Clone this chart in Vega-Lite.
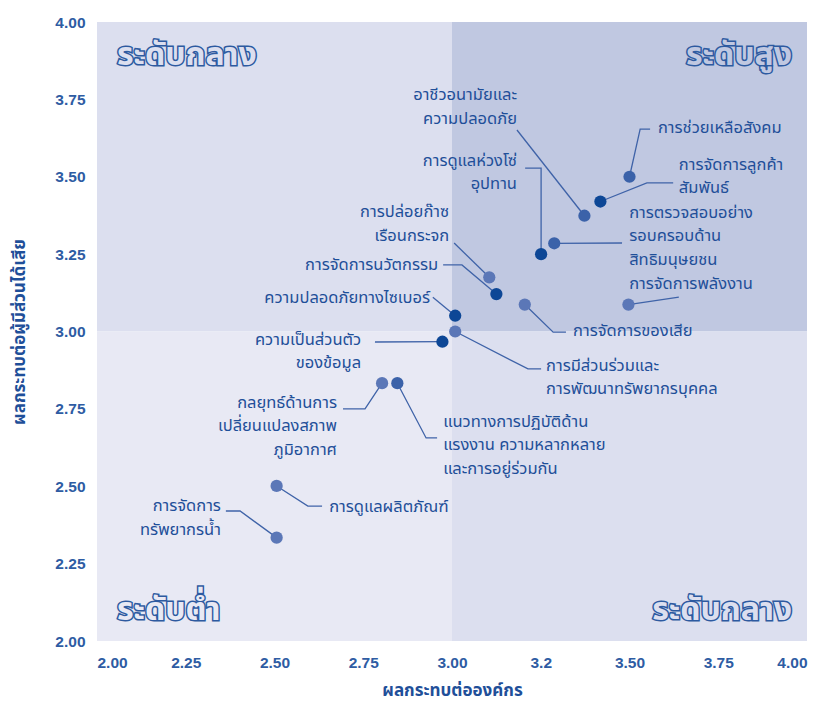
{
  "$schema": "https://vega.github.io/schema/vega-lite/v6.json",
  "autosize": "none",
  "width": 710,
  "height": 619,
  "padding": {"left": 97, "top": 22, "right": 20, "bottom": 65},
  "background": "#ffffff",
  "config": {
    "view": {"stroke": null},
    "font": "Noto Sans Thai, Noto Sans",
    "axis": {"domain": false, "ticks": false, "grid": false, "labelColor": "#2e5ca3", "labelFont": "Liberation Sans", "labelFontSize": 15.5, "labelFontWeight": "bold", "titleColor": "#1f4f99", "titleFontSize": 17, "titleFontWeight": "bold"}
  },
  "datasets": {
    "quads": [
      {"q": "tl", "x1": 2, "x2": 3, "y1": 3, "y2": 4},
      {"q": "tr", "x1": 3, "x2": 4, "y1": 3, "y2": 4},
      {"q": "bl", "x1": 2, "x2": 3, "y1": 2, "y2": 3},
      {"q": "br", "x1": 3, "x2": 4, "y1": 2, "y2": 3}
    ],
    "qlabels": [
      {"t": "ระดับกลาง", "x": 2.056, "y": 3.893, "a": "left", "bg": "tl"},
      {"t": "ระดับสูง", "x": 3.958, "y": 3.893, "a": "right", "bg": "tr"},
      {"t": "ระดับต่ำ", "x": 2.056, "y": 2.10, "a": "left", "bg": "bl"},
      {"t": "ระดับกลาง", "x": 3.958, "y": 2.10, "a": "right", "bg": "br"}
    ],
    "points": [
      {"name": "การช่วยเหลือสังคม", "x": 3.50, "y": 3.50, "tone": "mid"},
      {"name": "การจัดการลูกค้าสัมพันธ์", "x": 3.418, "y": 3.42, "tone": "dark"},
      {"name": "อาชีวอนามัยและความปลอดภัย", "x": 3.373, "y": 3.374, "tone": "mid"},
      {"name": "การดูแลห่วงโซ่อุปทาน", "x": 3.251, "y": 3.25, "tone": "dark"},
      {"name": "การตรวจสอบอย่างรอบครอบด้านสิทธิมนุษยชน", "x": 3.288, "y": 3.285, "tone": "mid"},
      {"name": "การจัดการพลังงาน", "x": 3.497, "y": 3.087, "tone": "light"},
      {"name": "การจัดการของเสีย", "x": 3.205, "y": 3.087, "tone": "light"},
      {"name": "การปล่อยก๊าซเรือนกระจก", "x": 3.105, "y": 3.175, "tone": "light"},
      {"name": "การจัดการนวัตกรรม", "x": 3.125, "y": 3.121, "tone": "dark"},
      {"name": "ความปลอดภัยทางไซเบอร์", "x": 3.009, "y": 3.051, "tone": "dark"},
      {"name": "การมีส่วนร่วมและการพัฒนาทรัพยากรบุคคล", "x": 3.009, "y": 3.0, "tone": "light"},
      {"name": "ความเป็นส่วนตัวของข้อมูล", "x": 2.973, "y": 2.967, "tone": "dark"},
      {"name": "กลยุทธ์ด้านการเปลี่ยนแปลงสภาพภูมิอากาศ", "x": 2.803, "y": 2.833, "tone": "light"},
      {"name": "แนวทางการปฏิบัติด้านแรงงาน", "x": 2.846, "y": 2.833, "tone": "mid"},
      {"name": "การดูแลผลิตภัณฑ์", "x": 2.506, "y": 2.501, "tone": "light"},
      {"name": "การจัดการทรัพยากรน้ำ", "x": 2.506, "y": 2.334, "tone": "light"}
    ],
    "labels": [
      {"t": "การช่วยเหลือสังคม", "x": 3.580, "y": 3.658, "a": "left"},
      {"t": "การจัดการลูกค้า\nสัมพันธ์", "x": 3.639, "y": 3.538, "a": "left"},
      {"t": "อาชีวอนามัยและ\nความปลอดภัย", "x": 3.183, "y": 3.764, "a": "right"},
      {"t": "การดูแลห่วงโซ่\nอุปทาน", "x": 3.183, "y": 3.551, "a": "right"},
      {"t": "การตรวจสอบอย่าง\nรอบครอบด้าน\nสิทธิมนุษยชน", "x": 3.499, "y": 3.383, "a": "left"},
      {"t": "การจัดการพลังงาน", "x": 3.499, "y": 3.153, "a": "left"},
      {"t": "การจัดการของเสีย", "x": 3.341, "y": 3.002, "a": "left"},
      {"t": "การปล่อยก๊าซ\nเรือนกระจก", "x": 2.992, "y": 3.386, "a": "right"},
      {"t": "การจัดการนวัตกรรม", "x": 2.961, "y": 3.215, "a": "right"},
      {"t": "ความปลอดภัยทางไซเบอร์", "x": 2.938, "y": 3.108, "a": "right"},
      {"t": "การมีส่วนร่วมและ\nการพัฒนาทรัพยากรบุคคล", "x": 3.265, "y": 2.889, "a": "left"},
      {"t": "ความเป็นส่วนตัว\nของข้อมูล", "x": 2.744, "y": 2.973, "a": "right"},
      {"t": "กลยุทธ์ด้านการ\nเปลี่ยนแปลงสภาพ\nภูมิอากาศ", "x": 2.676, "y": 2.769, "a": "right"},
      {"t": "แนวทางการปฏิบัติด้าน\nแรงงาน ความหลากหลาย\nและการอยู่ร่วมกัน", "x": 2.975, "y": 2.708, "a": "left"},
      {"t": "การดูแลผลิตภัณฑ์", "x": 2.654, "y": 2.433, "a": "left"},
      {"t": "การจัดการ\nทรัพยากรน้ำ", "x": 2.349, "y": 2.436, "a": "right"}
    ],
    "leaders": [
      {"id": 1, "o": 1, "x": 3.558, "y": 3.654}, {"id": 1, "o": 2, "x": 3.530, "y": 3.654}, {"id": 1, "o": 3, "x": 3.50, "y": 3.50},
      {"id": 2, "o": 1, "x": 3.418, "y": 3.42}, {"id": 2, "o": 2, "x": 3.549, "y": 3.480}, {"id": 2, "o": 3, "x": 3.623, "y": 3.480},
      {"id": 3, "o": 1, "x": 3.183, "y": 3.651}, {"id": 3, "o": 2, "x": 3.373, "y": 3.374},
      {"id": 4, "o": 1, "x": 3.206, "y": 3.528}, {"id": 4, "o": 2, "x": 3.251, "y": 3.528}, {"id": 4, "o": 3, "x": 3.251, "y": 3.25},
      {"id": 5, "o": 1, "x": 3.288, "y": 3.285}, {"id": 5, "o": 2, "x": 3.479, "y": 3.286},
      {"id": 6, "o": 1, "x": 3.497, "y": 3.087}, {"id": 6, "o": 2, "x": 3.639, "y": 3.111},
      {"id": 7, "o": 1, "x": 3.205, "y": 3.087}, {"id": 7, "o": 2, "x": 3.285, "y": 2.998}, {"id": 7, "o": 3, "x": 3.321, "y": 2.998},
      {"id": 8, "o": 1, "x": 3.006, "y": 3.286}, {"id": 8, "o": 2, "x": 3.105, "y": 3.175},
      {"id": 9, "o": 1, "x": 2.975, "y": 3.215}, {"id": 9, "o": 2, "x": 3.028, "y": 3.215}, {"id": 9, "o": 3, "x": 3.125, "y": 3.121},
      {"id": 10, "o": 1, "x": 2.946, "y": 3.111}, {"id": 10, "o": 2, "x": 3.009, "y": 3.051},
      {"id": 11, "o": 1, "x": 3.009, "y": 3.0}, {"id": 11, "o": 2, "x": 3.214, "y": 2.879}, {"id": 11, "o": 3, "x": 3.251, "y": 2.879},
      {"id": 12, "o": 1, "x": 2.783, "y": 2.966}, {"id": 12, "o": 2, "x": 2.973, "y": 2.967},
      {"id": 13, "o": 1, "x": 2.693, "y": 2.750}, {"id": 13, "o": 2, "x": 2.755, "y": 2.750}, {"id": 13, "o": 3, "x": 2.803, "y": 2.833},
      {"id": 14, "o": 1, "x": 2.846, "y": 2.833}, {"id": 14, "o": 2, "x": 2.927, "y": 2.656}, {"id": 14, "o": 3, "x": 2.958, "y": 2.656},
      {"id": 15, "o": 1, "x": 2.506, "y": 2.501}, {"id": 15, "o": 2, "x": 2.594, "y": 2.436}, {"id": 15, "o": 3, "x": 2.634, "y": 2.436},
      {"id": 16, "o": 1, "x": 2.363, "y": 2.420}, {"id": 16, "o": 2, "x": 2.403, "y": 2.420}, {"id": 16, "o": 3, "x": 2.506, "y": 2.334}
    ]
  },
  "layer": [
    {
      "data": {"name": "quads"},
      "mark": {"type": "rect"},
      "encoding": {
        "x": {"field": "x1", "type": "quantitative", "scale": {"domain": [2, 4], "nice": false, "zero": false},
              "axis": {"values": [2, 2.25, 2.5, 2.75, 3, 3.25, 3.5, 3.75, 4], "labelExpr": "datum.value == 3.25 ? '3.2' : format(datum.value, '.2f')", "labelPadding": 14, "title": "ผลกระทบต่อองค์กร", "titlePadding": 12}},
        "x2": {"field": "x2"},
        "y": {"field": "y1", "type": "quantitative", "scale": {"domain": [2, 4], "nice": false, "zero": false},
              "axis": {"values": [2, 2.25, 2.5, 2.75, 3, 3.25, 3.5, 3.75, 4], "format": ".2f", "labelPadding": 12, "title": "ผลกระทบต่อผู้มีส่วนได้เสีย", "titlePadding": 26}},
        "y2": {"field": "y2"},
        "color": {"field": "q", "type": "nominal", "scale": {"domain": ["tl", "tr", "bl", "br"], "range": ["#dcdfef", "#c0c8e1", "#e8e9f4", "#dcdfef"]}, "legend": null}
      }
    },
    {
      "data": {"name": "qlabels"},
      "transform": [{"filter": "datum.a == 'left'"}],
      "mark": {"type": "text", "align": "left", "baseline": "middle", "fontSize": 32, "fontWeight": "bold", "color": "#2d5aa0", "stroke": "#2d5aa0", "strokeWidth": 3},
      "encoding": {
        "x": {"field": "x", "type": "quantitative"},
        "y": {"field": "y", "type": "quantitative"},
        "text": {"field": "t"}
      }
    },
    {
      "data": {"name": "qlabels"},
      "transform": [{"filter": "datum.a == 'right'"}],
      "mark": {"type": "text", "align": "right", "baseline": "middle", "fontSize": 32, "fontWeight": "bold", "color": "#2d5aa0", "stroke": "#2d5aa0", "strokeWidth": 3},
      "encoding": {
        "x": {"field": "x", "type": "quantitative"},
        "y": {"field": "y", "type": "quantitative"},
        "text": {"field": "t"}
      }
    },
    {
      "data": {"name": "qlabels"},
      "transform": [{"filter": "datum.a == 'left'"}],
      "mark": {"type": "text", "align": "left", "baseline": "middle", "fontSize": 32, "fontWeight": "bold"},
      "encoding": {
        "x": {"field": "x", "type": "quantitative"},
        "y": {"field": "y", "type": "quantitative"},
        "text": {"field": "t"},
        "color": {"field": "bg", "type": "nominal", "scale": {"domain": ["tl", "tr", "bl", "br"], "range": ["#dcdfef", "#c0c8e1", "#e8e9f4", "#dcdfef"]}, "legend": null}
      }
    },
    {
      "data": {"name": "qlabels"},
      "transform": [{"filter": "datum.a == 'right'"}],
      "mark": {"type": "text", "align": "right", "baseline": "middle", "fontSize": 32, "fontWeight": "bold"},
      "encoding": {
        "x": {"field": "x", "type": "quantitative"},
        "y": {"field": "y", "type": "quantitative"},
        "text": {"field": "t"},
        "color": {"field": "bg", "type": "nominal", "scale": {"domain": ["tl", "tr", "bl", "br"], "range": ["#dcdfef", "#c0c8e1", "#e8e9f4", "#dcdfef"]}, "legend": null}
      }
    },
    {
      "data": {"name": "leaders"},
      "mark": {"type": "line", "color": "#3f63a8", "strokeWidth": 1.3},
      "encoding": {
        "x": {"field": "x", "type": "quantitative"},
        "y": {"field": "y", "type": "quantitative"},
        "detail": {"field": "id", "type": "nominal"},
        "order": {"field": "o", "type": "quantitative"}
      }
    },
    {
      "data": {"name": "points"},
      "mark": {"type": "circle", "size": 150, "opacity": 1},
      "encoding": {
        "x": {"field": "x", "type": "quantitative"},
        "y": {"field": "y", "type": "quantitative"},
        "color": {"field": "tone", "type": "nominal", "scale": {"domain": ["dark", "mid", "light"], "range": ["#0d4796", "#3b62a9", "#5b77b7"]}, "legend": null}
      }
    },
    {
      "data": {"name": "labels"},
      "transform": [{"filter": "datum.a == 'left'"}],
      "mark": {"type": "text", "align": "left", "baseline": "middle", "fontSize": 16.5, "lineBreak": "\n", "lineHeight": 23.5, "color": "#1f4f99"},
      "encoding": {
        "x": {"field": "x", "type": "quantitative"},
        "y": {"field": "y", "type": "quantitative"},
        "text": {"field": "t"}
      }
    },
    {
      "data": {"name": "labels"},
      "transform": [{"filter": "datum.a == 'right'"}],
      "mark": {"type": "text", "align": "right", "baseline": "middle", "fontSize": 16.5, "lineBreak": "\n", "lineHeight": 23.5, "color": "#1f4f99"},
      "encoding": {
        "x": {"field": "x", "type": "quantitative"},
        "y": {"field": "y", "type": "quantitative"},
        "text": {"field": "t"}
      }
    }
  ],
  "resolve": {"scale": {"color": "independent"}}
}
